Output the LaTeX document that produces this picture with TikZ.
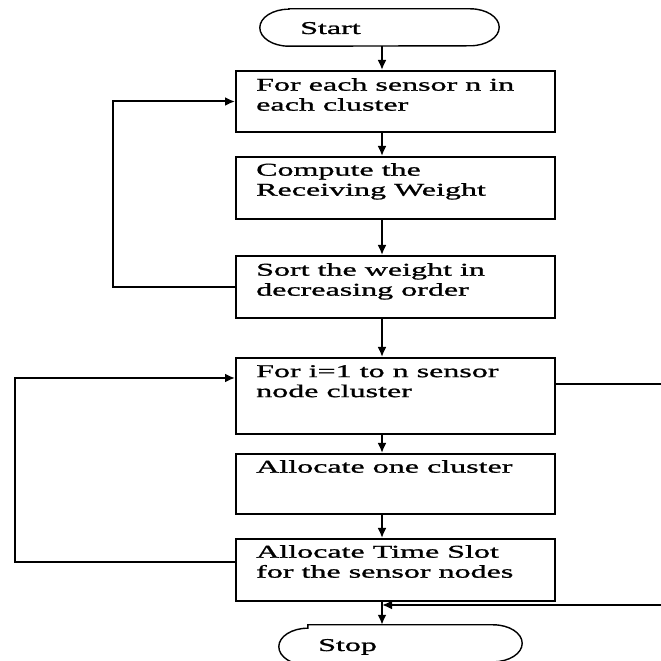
\documentclass[tikz,border=0pt]{standalone}
\usepackage{fontspec}
\setmainfont{Liberation Serif}[FakeStretch=1.78,FakeBold=1.2]
\usetikzlibrary{arrows.meta}
\begin{document}
\begin{tikzpicture}[x=1pt,y=1pt,
  line/.style={line width=2pt, draw=black},
  arr/.style={line, -{Latex[length=10pt,width=9pt]}},
  stepbox/.style={draw=black, line width=2pt, rectangle, minimum width=319pt, inner sep=0pt},
  term/.style={rectangle, inner sep=0pt},
  txt/.style={anchor=north west, inner sep=0pt, align=left, font=\fontsize{18}{20}\selectfont},
  ttxt/.style={inner sep=0pt, font=\fontsize{18}{20}\selectfont}
]
\useasboundingbox (0,0) rectangle (661,661);
\fill[white] (0,0) rectangle (661,661);

% column of the main flow line
\coordinate (ax) at (382,0);

% terminators
\node[term, minimum width=239pt, minimum height=37pt] (start) at (379.5,633.5) {};
\node[term, minimum width=243pt, minimum height=40pt] (stop) at (400.5,16) {};
\foreach \t in {start,stop}{
  \draw[line, line width=1.4pt]
    ([xshift=29pt]\t.north west) -- ([xshift=-29pt]\t.north east)
    arc[start angle=90, end angle=-90, x radius=29pt, y radius=18.5pt]
    -- ([xshift=29pt]\t.south west)
    arc[start angle=270, end angle=90, x radius=29pt, y radius=18.5pt]
    -- cycle;
}
\node[ttxt, anchor=base west] (tstart) at (300,627) {Start};
\node[ttxt, anchor=base west] (tstop) at (318,10) {Stop};

% process boxes
\node[stepbox, minimum height=61pt] (b1) at (395.5,559.5) {};
\node[stepbox, minimum height=62pt] (b2) at (395.5,473) {};
\node[stepbox, minimum height=62pt] (b3) at (395.5,374) {};
\node[stepbox, minimum height=76pt] (b4) at (395.5,265) {};
\node[stepbox, minimum height=60pt] (b5) at (395.5,177) {};
\node[stepbox, minimum height=62pt] (b6) at (395.5,91) {};

% box texts
\node[txt] (t1) at ([shift={(21pt,-8pt)}]b1.north west) {For each sensor n in\\each cluster};
\node[txt] (t2) at ([shift={(21pt,-7pt)}]b2.north west) {Compute the\\Receiving Weight};
\node[txt] (t3) at ([shift={(21pt,-8pt)}]b3.north west) {Sort the weight in\\decreasing order};
\node[txt] (t4) at ([shift={(21pt,-8pt)}]b4.north west) {For i=1 to n sensor\\node cluster};
\node[txt] (t5) at ([shift={(21pt,-7pt)}]b5.north west) {Allocate one cluster};
\node[txt] (t6) at ([shift={(21pt,-7pt)}]b6.north west) {Allocate Time Slot\\for the sensor nodes};

% main flow
\draw[arr] (start.south -| ax) -- (b1.north -| ax);
\draw[arr] (b1.south -| ax) -- (b2.north -| ax);
\draw[arr] (b2.south -| ax) -- (b3.north -| ax);
\draw[arr] (b3.south -| ax) -- (b4.north -| ax);
\draw[arr] (b4.south -| ax) -- (b5.north -| ax);
\draw[arr] (b5.south -| ax) -- (b6.north -| ax);
\draw[arr] (b6.south -| ax) -- (stop.north -| ax);

% inner loop back to the first box
\draw[arr] (b3.west) -- (113,374) -- (113,559.5) -- (b1.west);

% outer loop back to the counting box
\coordinate (o1) at ([yshift=-24pt]b6.north west);
\coordinate (o2) at ([yshift=-21pt]b4.north west);
\draw[arr] (o1) -- (o1 -| 15,0) -- (o2 -| 15,0) -- (o2);

% exit branch along the right edge
\coordinate (r1) at ([yshift=-27pt]b4.north east);
\coordinate (r2) at (661,56);
\draw[line] (r1) -- (r1 -| r2);
\draw[arr] (r2) -- (r2 -| ax);
\end{tikzpicture}
\end{document}
